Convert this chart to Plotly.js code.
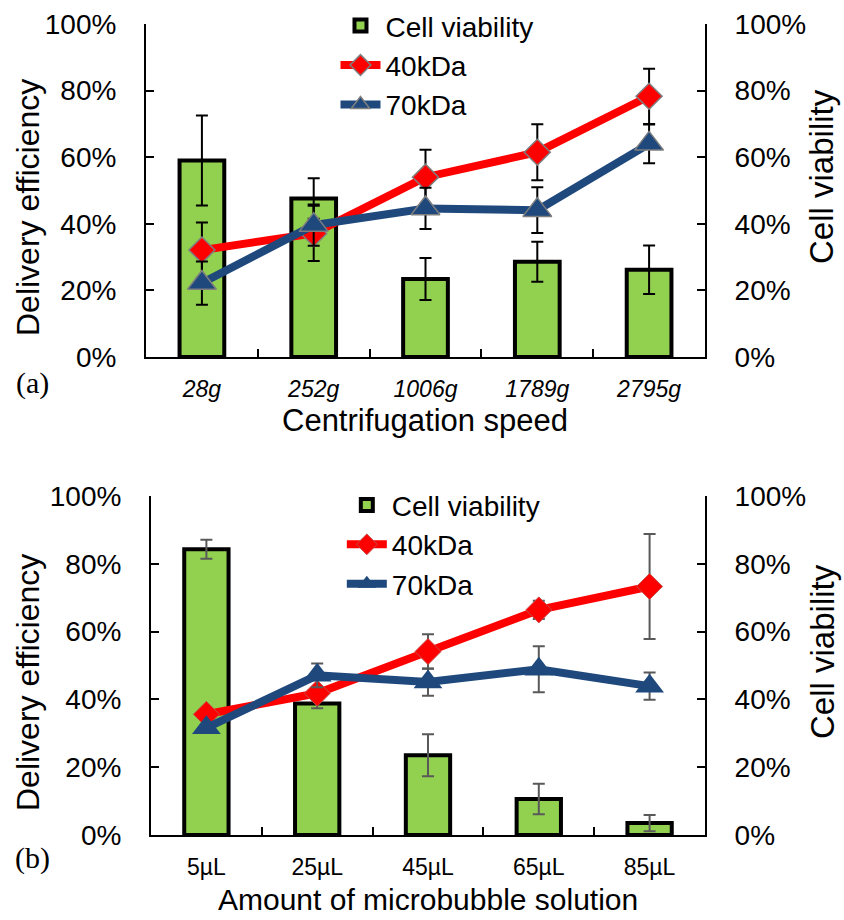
<!DOCTYPE html>
<html>
<head>
<meta charset="utf-8">
<script src="https://cdn.plot.ly/plotly-3.0.1.min.js"></script>
<style>
html,body{margin:0;padding:0;background:#fff;}
#chart{width:844px;height:920px;}
</style>
</head>
<body>
<div id="chart"></div>
<script>
// ---- Data (a): centrifugation speed ----
var catsA = ['28g', '252g', '1006g', '1789g', '2795g'];
var viabA = [0.590, 0.476, 0.234, 0.286, 0.262];
var viabAErr = [0.135, 0.061, 0.063, 0.060, 0.073];
var d40A = [0.321, 0.371, 0.540, 0.615, 0.783];
var d40AErr = [0.083, 0.083, 0.082, 0.084, 0.083];
var d70A = [0.222, 0.396, 0.446, 0.441, 0.640];
var d70AErr = [0.065, 0.062, 0.062, 0.069, 0.058];

// ---- Data (b): amount of microbubble solution ----
var catsB = ['5µL', '25µL', '45µL', '65µL', '85µL'];
var viabB = [0.843, 0.388, 0.235, 0.106, 0.035];
var viabBErr = [0.028, 0.014, 0.062, 0.045, 0.024];
var d40B = [0.356, 0.418, 0.541, 0.664, 0.733];
var d40BErr = [0.015, 0.015, 0.051, 0.027, 0.155];
var d70B = [0.316, 0.471, 0.451, 0.489, 0.439];
var d70BErr = [0.010, 0.035, 0.040, 0.068, 0.040];

var seriesNames = ['Cell viability', '40kDa', '70kDa'];
var yTitleLeft = 'Delivery efficiency', yTitleRight = 'Cell viability';
var xTitleA = 'Centrifugation speed', xTitleB = 'Amount of microbubble solution';

var GREEN = '#92D050', RED = '#FF0000', BLUE = '#1F497D';
var FONT = 'Liberation Sans, Arial, sans-serif';
var SERIF = 'Liberation Serif, Times New Roman, serif';

function barTrace(x, y, err, xa, ya, legend, errColor) {
  return {
    type: 'bar', x: x, y: y, name: seriesNames[0], xaxis: xa, yaxis: ya, legend: legend,
    marker: {color: GREEN, line: {color: '#000', width: 4}},
    width: 0.4,
    error_y: {type: 'data', array: err, visible: true, color: errColor, thickness: 2, width: 6}
  };
}
function lineTrace(x, y, err, xa, ya, legend, nameIdx, color, symbol, lineColor, lineW, errColor) {
  return {
    type: 'scatter', mode: 'lines+markers', x: x, y: y, name: seriesNames[nameIdx],
    xaxis: xa, yaxis: ya, legend: legend,
    line: {color: color, width: 8},
    marker: {symbol: symbol, size: symbol === 'diamond' ? 20 : 25, color: color,
             line: {color: lineColor, width: lineW}},
    error_y: {type: 'data', array: err, visible: true, color: errColor, thickness: 2, width: 6}
  };
}

var data = [
  barTrace(catsA, viabA, viabAErr, 'x', 'y', 'legend', '#000'),
  lineTrace(catsA, d40A, d40AErr, 'x', 'y2', 'legend', 1, RED, 'diamond', '#7F7F7F', 1.5, '#000'),
  lineTrace(catsA, d70A, d70AErr, 'x', 'y2', 'legend', 2, BLUE, 'triangle-up', '#7F7F7F', 1.5, '#000'),
  barTrace(catsB, viabB, viabBErr, 'x2', 'y3', 'legend2', '#595959'),
  lineTrace(catsB, d40B, d40BErr, 'x2', 'y4', 'legend2', 1, RED, 'diamond', '#C0504D', 1, '#595959'),
  lineTrace(catsB, d70B, d70BErr, 'x2', 'y4', 'legend2', 2, BLUE, 'triangle-up', BLUE, 0, '#595959')
];

function xAxis(domain, anchor, italic) {
  return {
    domain: domain, anchor: anchor, type: 'category', range: [-0.5, 4.5],
    showline: true, linecolor: '#000', linewidth: 2,
    ticks: 'inside', tickson: 'boundaries', ticklen: 8, tickwidth: 2, tickcolor: '#000',
    showgrid: false, zeroline: false,
    tickfont: {family: FONT, size: 23, color: '#000', style: italic ? 'italic' : 'normal'},
    ticklabelstandoff: 10
  };
}
function yAxis(domain, anchor, side, overlaying) {
  var a = {
    domain: domain, anchor: anchor, side: side, range: [0, 1],
    tickvals: [0, 0.2, 0.4, 0.6, 0.8, 1.0], tickformat: '.0%',
    showline: true, linecolor: '#000', linewidth: 2,
    ticks: 'inside', ticklen: 8, tickwidth: 2, tickcolor: '#000',
    showgrid: false, zeroline: false,
    tickfont: {family: FONT, size: 28, color: '#000'},
    ticklabelstandoff: 22
  };
  if (overlaying) a.overlaying = overlaying;
  return a;
}

function txt(text, xpx, ypx, size, angle, fam) {
  return {text: text, xref: 'paper', yref: 'paper', x: xpx / 844, y: 1 - ypx / 920,
          xanchor: 'center', yanchor: 'middle', showarrow: false, textangle: angle || 0,
          font: {family: fam || FONT, size: size, color: '#000'}};
}

var layout = {
  width: 844, height: 920,
  margin: {l: 0, r: 0, t: 0, b: 0},
  paper_bgcolor: '#fff', plot_bgcolor: 'rgba(0,0,0,0)',
  font: {family: FONT, color: '#000'},
  barmode: 'group',
  xaxis: xAxis([0.1730, 0.8353], 'y', true),
  yaxis: yAxis([0.6120, 0.9739], 'x', 'right'),
  yaxis2: yAxis([0.6120, 0.9739], 'x', 'left', 'y'),
  xaxis2: xAxis([0.1789, 0.8353], 'y3', false),
  yaxis3: yAxis([0.0924, 0.4609], 'x2', 'right'),
  yaxis4: yAxis([0.0924, 0.4609], 'x2', 'left', 'y3'),
  legend: {x: 0.3975, y: 0.999, xanchor: 'left', yanchor: 'top', bgcolor: 'rgba(0,0,0,0)',
           font: {family: FONT, size: 28, color: '#000'}, tracegroupgap: 0, itemwidth: 40},
  legend2: {x: 0.405, y: 0.478, xanchor: 'left', yanchor: 'top', bgcolor: 'rgba(0,0,0,0)',
            font: {family: FONT, size: 28, color: '#000'}, tracegroupgap: 0, itemwidth: 40},
  showlegend: true,
  annotations: [
    txt(yTitleLeft, 28, 208, 32, -90),
    txt(yTitleRight, 822, 177, 33, -90),
    txt(xTitleA, 425, 420, 31, 0),
    txt(yTitleLeft, 28, 683, 32, -90),
    txt(yTitleRight, 822, 652, 33, -90),
    txt(xTitleB, 428, 899, 30, 0),
    txt('(a)', 32, 383, 30, 0, SERIF),
    txt('(b)', 32, 858, 30, 0, SERIF)
  ]
};

Plotly.newPlot('chart', data, layout, {displayModeBar: false, staticPlot: true});
</script>
</body>
</html>
